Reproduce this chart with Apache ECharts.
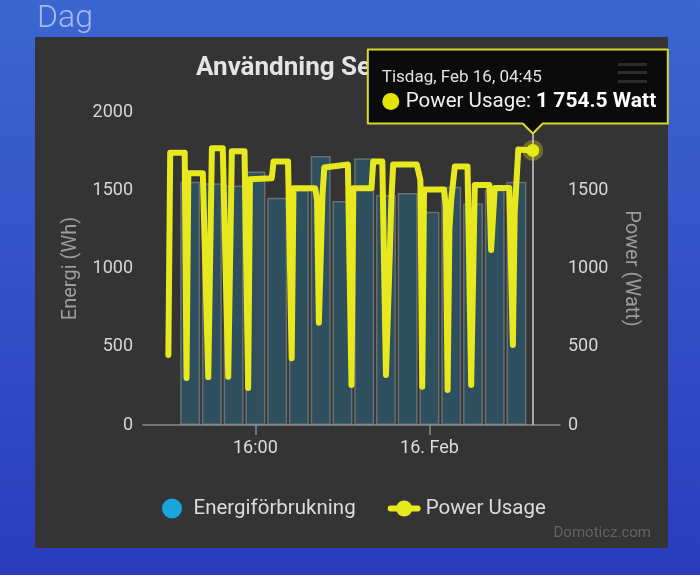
<!DOCTYPE html>
<html>
<head>
<meta charset="utf-8">
<script src="https://cdn.jsdelivr.net/npm/echarts@6/dist/echarts.min.js"></script>
<style>
html, body { margin: 0; padding: 0; background: #3a5fcc; }
#main { width: 700px; height: 575px; }
</style>
</head>
<body>
<div id="main"></div>
<script>
// timstaplar (energi per timme)
var barTider = ['2021-02-15 13:00', '2021-02-15 14:00', '2021-02-15 15:00', '2021-02-15 16:00',
    '2021-02-15 17:00', '2021-02-15 18:00', '2021-02-15 19:00', '2021-02-15 20:00',
    '2021-02-15 21:00', '2021-02-15 22:00', '2021-02-15 23:00', '2021-02-16 00:00',
    '2021-02-16 01:00', '2021-02-16 02:00', '2021-02-16 03:00', '2021-02-16 04:00'];
var energiWh = [1555, 1545, 1530, 1620, 1452, 1500, 1719, 1432, 1704, 1470, 1482, 1363, 1523, 1416, 1502, 1555];

// effektkurvan
var effektTider = ['2021-02-15 12:00', '2021-02-15 12:05', '2021-02-15 12:45', '2021-02-15 12:50', '2021-02-15 12:55',
    '2021-02-15 13:35', '2021-02-15 13:50', '2021-02-15 14:00', '2021-02-15 14:30', '2021-02-15 14:45',
    '2021-02-15 14:55', '2021-02-15 15:30', '2021-02-15 15:40', '2021-02-15 15:45', '2021-02-15 16:45',
    '2021-02-15 16:50', '2021-02-15 17:30', '2021-02-15 17:40', '2021-02-15 17:45', '2021-02-15 18:45',
    '2021-02-15 18:50', '2021-02-15 18:55', '2021-02-15 19:05', '2021-02-15 19:10', '2021-02-15 20:15',
    '2021-02-15 20:25', '2021-02-15 20:30', '2021-02-15 21:20', '2021-02-15 21:25', '2021-02-15 21:50',
    '2021-02-15 22:00', '2021-02-15 22:10', '2021-02-15 22:15', '2021-02-15 22:20', '2021-02-15 23:25',
    '2021-02-15 23:35', '2021-02-15 23:40', '2021-02-15 23:45', '2021-02-16 00:40', '2021-02-16 00:45',
    '2021-02-16 00:50', '2021-02-16 00:55', '2021-02-16 01:00', '2021-02-16 01:10', '2021-02-16 01:45',
    '2021-02-16 01:55', '2021-02-16 02:05', '2021-02-16 02:45', '2021-02-16 02:50', '2021-02-16 03:00',
    '2021-02-16 03:40', '2021-02-16 03:50', '2021-02-16 03:55', '2021-02-16 04:05', '2021-02-16 04:45'];
var effektWatt = [447, 1740, 1740, 300, 1608,
    1608, 306, 1768, 1768, 308,
    1750, 1750, 236, 1570, 1576,
    1683, 1683, 426, 1512, 1512,
    1438, 654, 1470, 1645, 1665,
    256, 1512, 1512, 1683, 1683,
    320, 1050, 1440, 1665, 1665,
    1565, 245, 1505, 1505, 1400,
    224, 1250, 1440, 1651, 1651,
    256, 1534, 1534, 1118, 1514,
    1514, 511, 1354, 1760, 1754.5];

// axelns etiketter
var xTicks = ['2021-02-15 16:00', '2021-02-16 00:00'];
var xMin = '2021-02-15 10:50';
var xMax = '2021-02-16 06:00';

var rubrik = 'Användning Senaste 24 timmar';
var dagar = ['Söndag', 'Måndag', 'Tisdag', 'Onsdag', 'Torsdag', 'Fredag', 'Lördag'];
var manader = ['Jan', 'Feb', 'Mar', 'Apr', 'Maj', 'Jun', 'Jul', 'Aug', 'Sep', 'Okt', 'Nov', 'Dec'];

function tid(s) {
    var p = s.split(/[- :]/);
    return new Date(+p[0], +p[1] - 1, +p[2], +p[3], +p[4]).getTime();
}
function tvaSiffror(n) { return (n < 10 ? '0' : '') + n; }

var barData = [];
for (var i = 0; i < barTider.length; i++) {
    barData.push([tid(barTider[i]), energiWh[i]]);
}
var lineData = [];
for (var j = 0; j < effektTider.length; j++) {
    lineData.push([tid(effektTider[j]), effektWatt[j]]);
}
var sista = lineData[lineData.length - 1];

var font = 'Roboto, "Noto Sans", sans-serif';
var dom = document.getElementById('main');
var myChart = echarts.init(dom);

var option = {
    backgroundColor: new echarts.graphic.LinearGradient(0, 0, 0, 1, [
        { offset: 0, color: '#3b66d0' },
        { offset: 1, color: '#2a3cbd' }
    ]),
    textStyle: { fontFamily: font },
    animation: false,
    title: {
        text: rubrik,
        left: 191,
        top: 50,
        z: 2,
        textStyle: { color: '#e4e4e4', fontSize: 26, fontWeight: 'bold', fontFamily: font }
    },
    legend: {
        left: 157,
        top: 493,
        itemWidth: 27,
        itemHeight: 20,
        itemGap: 32,
        textStyle: { color: '#dcdcdc', fontSize: 20.5, fontFamily: font, padding: [0, 0, 0, 3] },
        data: [
            { name: 'Energiförbrukning', icon: 'circle', itemStyle: { color: '#1aa6dc', borderWidth: 0 } },
            { name: 'Power Usage', lineStyle: { width: 6 }, itemStyle: { color: '#e8e81e' } }
        ]
    },
    grid: { left: 143, right: 140, top: 112, bottom: 150 },
    xAxis: {
        type: 'value',
        min: tid(xMin),
        max: tid(xMax),
        axisLine: { lineStyle: { color: '#8a8a8a', width: 1.5 } },
        axisTick: { show: true, length: 10, lineStyle: { color: '#8a8a8a', width: 1.5 }, customValues: xTicks.map(tid) },
        axisLabel: {
            color: '#dcdcdc',
            fontSize: 18,
            margin: 14,
            customValues: xTicks.map(tid),
            formatter: function (v) {
                var d = new Date(v);
                if (d.getHours() === 0 && d.getMinutes() === 0) {
                    return d.getDate() + '. ' + manader[d.getMonth()];
                }
                return tvaSiffror(d.getHours()) + ':' + tvaSiffror(d.getMinutes());
            }
        },
        splitLine: { show: false }
    },
    yAxis: [
        {
            type: 'value',
            min: 0,
            max: 2000,
            interval: 500,
            name: 'Energi (Wh)',
            nameLocation: 'middle',
            nameGap: 62,
            nameTextStyle: { color: '#9c9c9c', fontSize: 20 },
            axisLabel: { color: '#d6d6d6', fontSize: 18, margin: 10, formatter: function (v) { return String(v); } },
            axisLine: { show: false },
            axisTick: { show: false },
            splitLine: { lineStyle: { color: '#6c6c6c', width: 1.2 } }
        },
        {
            type: 'value',
            min: 0,
            max: 2000,
            interval: 500,
            name: 'Power (Watt)',
            nameLocation: 'middle',
            nameRotate: -90,
            nameGap: 61,
            nameTextStyle: { color: '#9c9c9c', fontSize: 20 },
            axisLabel: { color: '#d6d6d6', fontSize: 18, margin: 8, formatter: function (v) { return String(v); } },
            axisLine: { show: false },
            axisTick: { show: false },
            splitLine: { show: false }
        }
    ],
    series: [
        {
            name: 'Energiförbrukning',
            type: 'bar',
            yAxisIndex: 0,
            barWidth: 20,
            data: barData,
            itemStyle: {
                color: 'rgba(26,160,215,0.25)',
                borderColor: 'rgba(150,150,150,0.55)',
                borderWidth: 1.5
            },
            z: 2
        },
        {
            name: 'Power Usage',
            type: 'line',
            yAxisIndex: 1,
            data: lineData,
            symbol: 'circle',
            symbolSize: 13,
            showSymbol: false,
            itemStyle: { color: '#e8e81e' },
            lineStyle: { color: '#e8e81e', width: 6, join: 'round', cap: 'round' },
            markLine: {
                silent: true,
                symbol: 'none',
                label: { show: false },
                lineStyle: { color: '#cfcfcf', width: 1.5, type: 'solid' },
                data: [{ xAxis: sista[0] }]
            },
            markPoint: {
                silent: true,
                symbol: 'circle',
                symbolSize: 13,
                label: { show: false },
                itemStyle: { color: '#f2f200', borderColor: 'rgba(215,215,40,0.35)', borderWidth: 8 },
                data: [{ coord: sista }]
            },
            z: 5
        }
    ]
};
myChart.setOption(option);

// Highcharts-liknande tooltip för sista punkten
var pt = myChart.convertToPixel({ xAxisIndex: 0, yAxisIndex: 1 }, sista);
var d = new Date(sista[0]);
var rad1 = dagar[d.getDay()] + ', ' + manader[d.getMonth()] + ' ' + d.getDate() + ', ' +
    tvaSiffror(d.getHours()) + ':' + tvaSiffror(d.getMinutes());
var delar = sista[1].toFixed(1).split('.');
var rad2 = delar[0].replace(/\B(?=(\d{3})+(?!\d))/g, ' ') + '.' + delar[1] + ' Watt';

var tipX = pt[0], tipY = pt[1] - 17;
var boxR = tipX + 135, boxL = tipX - 165, boxB = tipY - 10, boxT = boxB - 74;

myChart.setOption({
    graphic: [
        { type: 'rect', z: 0, shape: { x: 35, y: 37, width: 633, height: 511 }, style: { fill: '#343434' } },
        { type: 'text', z: 10, left: 37, top: 3, style: { text: 'Dag', fill: '#a9b8ee', fontSize: 32, fontWeight: 300, fontFamily: font } },
        { type: 'text', z: 10, right: 49, top: 526, style: { text: 'Domoticz.com', fill: '#646464', fontSize: 15, fontFamily: font } },
        // tooltip med pil, i eget lager ovanpå allt
        {
            type: 'polygon', zlevel: 1, z: 20,
            shape: { points: [[boxL, boxT], [boxR, boxT], [boxR, boxB], [tipX + 10, boxB], [tipX, tipY], [tipX - 10, boxB], [boxL, boxB]] },
            style: { fill: '#0b0b0b', stroke: '#d9d92c', lineWidth: 2, lineJoin: 'round' }
        },
        // meny-ikonen som skymtar genom tooltipen
        { type: 'rect', zlevel: 1, z: 21, shape: { x: 618, y: 63, width: 29, height: 3 }, style: { fill: '#2c2c2c' } },
        { type: 'rect', zlevel: 1, z: 21, shape: { x: 618, y: 71, width: 29, height: 3 }, style: { fill: '#2c2c2c' } },
        { type: 'rect', zlevel: 1, z: 21, shape: { x: 618, y: 80, width: 29, height: 3 }, style: { fill: '#2c2c2c' } },
        { type: 'text', zlevel: 1, z: 22, x: boxL + 14, y: boxT + 28, style: { text: rad1, fill: '#e2e2e2', fontSize: 17, fontFamily: font, verticalAlign: 'middle' } },
        { type: 'circle', zlevel: 1, z: 22, shape: { cx: boxL + 23, cy: boxT + 52, r: 8.5 }, style: { fill: '#e4e400' } },
        {
            type: 'text', zlevel: 1, z: 22, x: boxL + 38, y: boxT + 52,
            style: {
                text: '{n|Power Usage: }{b|' + rad2 + '}',
                verticalAlign: 'middle',
                rich: {
                    n: { fill: '#f0f0f0', fontSize: 20.5, fontFamily: font },
                    b: { fill: '#ffffff', fontSize: 21, fontWeight: 'bold', fontFamily: font }
                }
            }
        }
    ]
});
</script>
</body>
</html>
